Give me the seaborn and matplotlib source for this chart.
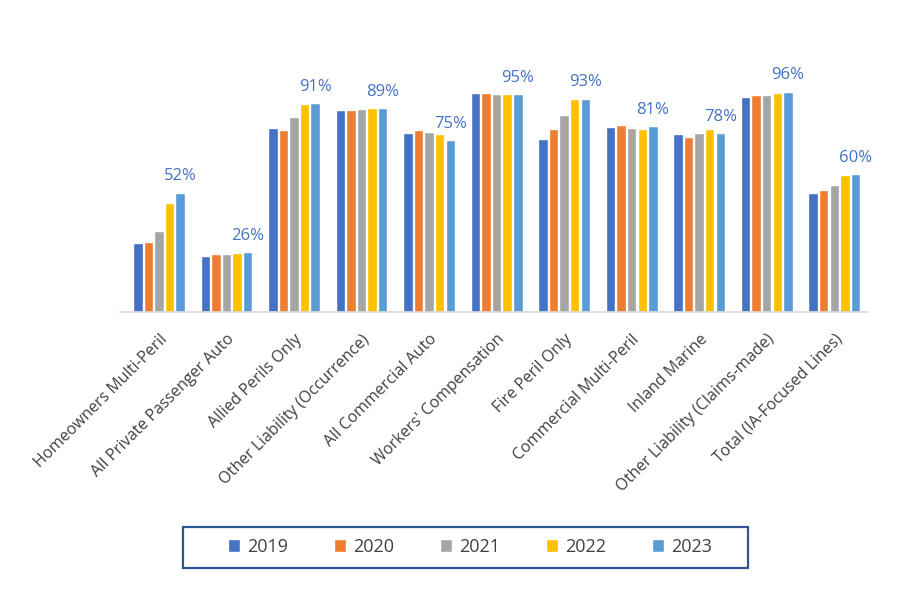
import numpy as np
import pandas as pd
import seaborn as sns
import matplotlib.pyplot as plt
from matplotlib.patches import Rectangle

# Lines of business and yearly values (%)
categories = ["Homeowners Multi-Peril", "All Private Passenger Auto", "Allied Perils Only",
              "Other Liability (Occurrence)", "All Commercial Auto", "Workers' Compensation",
              "Fire Peril Only", "Commercial Multi-Peril", "Inland Marine",
              "Other Liability (Claims-made)", "Total (IA-Focused Lines)"]
years = ["2019", "2020", "2021", "2022", "2023"]
v2019 = [30.2, 24.4, 80.2, 88.1, 78.2, 95.6, 75.6, 80.8, 77.8, 93.9, 52.0]
v2020 = [30.7, 25.3, 79.2, 88.1, 79.5, 95.6, 79.9, 81.5, 76.4, 94.8, 53.3]
v2021 = [35.5, 25.3, 85.2, 88.5, 78.6, 95.2, 86.0, 80.4, 78.2, 94.8, 55.5]
v2022 = [47.7, 25.7, 90.8, 89.0, 77.8, 95.2, 93.0, 79.9, 79.9, 95.6, 59.9]
v2023 = [52, 26, 91, 89, 75, 95, 93, 81, 78, 96, 60]

colors = ["#4472C4", "#ED7D31", "#A5A5A5", "#FFC000", "#5B9BD5"]

rows = []
for yr, vals in zip(years, [v2019, v2020, v2021, v2022, v2023]):
    for cat, v in zip(categories, vals):
        rows.append({"category": cat, "year": yr, "value": v})
df = pd.DataFrame(rows)

sns.set_style("white")
plt.rcParams["font.family"] = ["Open Sans", "DejaVu Sans"]

fig = plt.figure(figsize=(9, 6), dpi=100)
ax = fig.add_axes([120 / 900, 288 / 600, 748 / 900, 272 / 600])

sns.barplot(data=df, x="category", y="value", hue="year", palette=colors,
            width=0.78, gap=0.1, saturation=1, ax=ax, legend=True)

ax.set_ylim(0, 118.6)
ax.set_xlim(-0.58, len(categories) - 0.5)

# labels on the 2023 bars only
ax.bar_label(ax.containers[-1], fmt="{:.0f}%", padding=6, fontsize=12, color="#4472C4")

for s in ["top", "right", "left"]:
    ax.spines[s].set_visible(False)
ax.spines["bottom"].set_color("#D9D9D9")
ax.spines["bottom"].set_linewidth(1.2)
ax.set_yticks([])
ax.set_xlabel("")
ax.set_ylabel("")
ax.set_xticks(np.arange(len(categories)), categories)
ax.tick_params(axis="x", length=0, pad=14)
plt.setp(ax.get_xticklabels(), rotation=45, ha="right", rotation_mode="anchor",
         fontsize=11.5, color="#404040")

handles, labels = ax.get_legend_handles_labels()
ax.get_legend().remove()

# legend box drawn as a figure patch
fig.patches.append(Rectangle((183 / 900, 1 - 568 / 600), 565 / 900, 41 / 600,
                             transform=fig.transFigure, fill=False,
                             edgecolor="#2F5597", linewidth=1.6))
leg = fig.legend(handles, labels, loc="center", ncol=5, frameon=False,
                 bbox_to_anchor=(470 / 900, 1 - 547 / 600),
                 fontsize=13, handlelength=0.7, handleheight=0.7, handletextpad=0.4,
                 columnspacing=2.5)
for t in leg.get_texts():
    t.set_color("#404040")

fig.savefig("out.png", dpi=100)
